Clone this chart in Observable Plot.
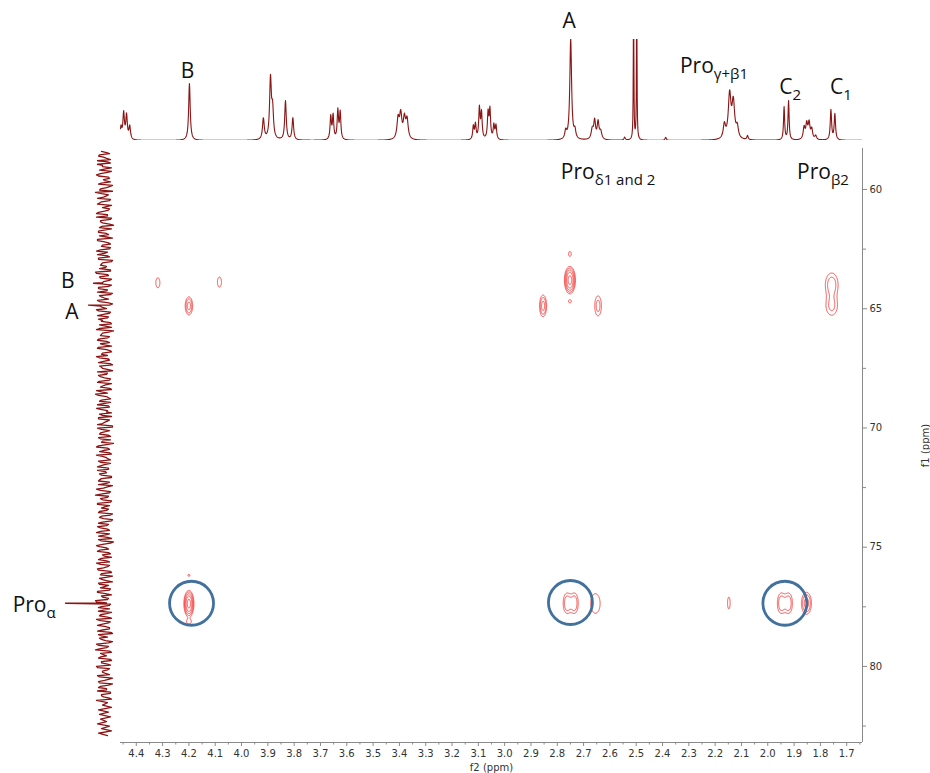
<!DOCTYPE html>
<html><head><meta charset="utf-8">
<script src="https://cdn.jsdelivr.net/npm/d3@7"></script>
<script src="https://cdn.jsdelivr.net/npm/@observablehq/plot@0.6"></script>
<style>
body{margin:0;background:#fff}
#wrap{position:relative;width:930px;height:773px;overflow:hidden;background:#fff}
#wrap svg{position:absolute;left:0;top:0}
</style></head><body><div id="wrap"></div>
<script>
(function () {
// ---------- axes ----------
const f2Domain = [4.46, 1.64];
const f1Domain = [58.28, 83.19];
const xTicks = [4.4,4.3,4.2,4.1,4.0,3.9,3.8,3.7,3.6,3.5,3.4,3.3,3.2,3.1,3.0,2.9,2.8,2.7,2.6,2.5,2.4,2.3,2.2,2.1,2.0,1.9,1.8,1.7];
const xMinor = [4.45,4.35,4.25,4.15,4.05,3.95,3.85,3.75,3.65,3.55,3.45,3.35,3.25,3.15,3.05,2.95,2.85,2.75,2.65,2.55,2.45,2.35,2.25,2.15,2.05,1.95,1.85,1.75,1.65];
const yTicks = [60,65,70,75,80];
const yMinor = [62.5,67.5,72.5,77.5,82.5];

// ---------- 1H projection (top): peak shift, height, half-width ----------
const hShift  = [4.458,4.448,4.437,4.425, 4.198, 3.917,3.890,3.882,3.833,3.805, 3.661,3.652,3.634,3.625, 3.405,3.395,3.381,3.371, 3.119,3.111,3.096,3.088,3.063,3.056,3.041,3.033, 2.768,2.749,2.733, 2.667,2.658,2.645,2.635, 2.544,2.510,2.498, 2.388, 2.165,2.145,2.131,2.116, 2.077, 1.938,1.921, 1.862,1.852,1.843,1.833,1.818, 1.760,1.745];
const hHeight = [12,26,24,13, 57, 21,60,28,39,22, 23,24,29,27, 20,24,20,19, 13,15,31,26,26,29,14,14, 8,101,8, 10,18,17,8, 3,150,150, 3, 14,44,36,11, 4, 33,39, 12,15,16,10,4, 30,26];
const hWidth  = [.0035,.0035,.0035,.0035, .0035, .004,.004,.004,.0035,.0035, .003,.003,.003,.003, .005,.005,.005,.005, .003,.003,.003,.003,.003,.003,.003,.003, .004,.004,.004, .005,.004,.004,.005, .003,.0012,.0012, .003, .005,.006,.006,.005, .003, .0025,.0025, .004,.004,.004,.004,.004, .003,.003];

// ---------- 13C projection (left) ----------
const cShift = [63.93, 64.85, 77.35];
const cHeight = [11, 16, 39];
const cNoiseA = [3,-5,6,-2,7,-6,2,-7,5,-3,8,-4,1,-6,6,-5,4,-8,3,-2,7,-5,5,-7,2,-4,6,-3,8,-6,4,-5,3,-7,6,-2,5,-8,7,-4,2,-6,4,-3,7,-5,6,-7,3,-2,5,-6,8,-4,4,-5,2,-7,6,-3,7,-6,3,-4,5,-8,4,-2,6,-5,7,-3,2,-6,5,-7,8,-4,3,-5,6,-2,4,-7,7,-6,2,-3,5,-5,6,-8,3,-4,7,-2,4,-6,5,-7,2,-5,8,-3,6,-4,3,-6,7,-5,4,-2,5,-7,6,-3,2,-8,7,-5,4,-4,6,-6,3,-2,8,-5,5,-7,2,-3,6,-6,4,-4,7,-2,3,-7,5,-5,6,-3,8,-6,2,-4,4,-7,7,-5,3,-2,6,-6,5,-8,2,-4,7,-3,4,-5,6,-7,3,-6,8,-2,5,-4,2,-7,6,-5,4,-3,7,-6,3,-8,5,-2,6,-4,4,-5,7,-7,2,-3,8,-6,3,-5,6,-2,5,-7,4,-4,7,-5,2,-6,6,-3,3,-8,8,-4,5,-5,4,-2,6,-7,3,-6,7,-3,2,-5,5,-4,6,-8,4,-2,7,-6,3,-5,8,-3,2,-7,6,-4,5,-6,4,-2,7,-5,3,-7,6,-3];
const cNoiseB = [-2,5,1,-6,-3,7,2,-1,-7,4,6,-5,0,3,-8,-2,5,9,-4,1,-6,3,7,-2,-5,0,8,-3,-7,4,2,-9,5,-1,6,-4,-2,7,1,-6,3,-5,8,0,-3,6,-8,2,4,-1,-6,9,-3,5,-7,1,3,-4,6,-2,-8,5,0,7,-3,-5,2,8,-6,1,-4,6,3,-7,-1,5,-9,2,4,-3,7,-5,0,6,-2,-7,3,8,-4,1,-6,5,2,-8,-3,6,0,-5,7,-1,4,-7,3,9,-2,-6,5,1,-4,8,-3,-7,2,6,-5,0,7,-8,3,-1,5,-6,4,2,-9,6,-3,1,-5,8,-2,-6,4,0,7,-4,-1,5,-7,3,6,-2,-8,1,4,-5,9,-3,2,-6,7,0,-4,5,-8,3,1,-7,6,-2,4,-5,8,-1,-3,6,-9,2,5,-4,7,-6,0,3,-2,8,-5,1,6,-7,4,-3,2,-8,5,0,-6,7,-1,3,-4,9,-2,-5,6,1,-7,4,-3,8,-6,2,0,-5,7,-8,3,5,-1,-4,6,-2,9,-7,1,4,-6,3,-3,8,-5,2,-1,7,-8,0,5,-4,6,-2,-6,3,1,-7];

// ---------- HSQC cross peaks ----------
const cpF2 = [4.318,4.084,4.200, 2.752,2.752,2.752,2.854,2.645, 1.757,1.757, 4.200,4.200,4.200, 2.763,2.735,2.763,2.735, 2.655, 2.148, 1.949,1.921,1.949,1.921, 1.853];
const cpF1 = [63.91,63.88,64.88, 62.70,63.80,64.69,64.88,64.88, 63.98,64.90, 77.37,76.18,78.13, 77.18,77.18,77.52,77.52, 77.36, 77.34, 77.18,77.18,77.52,77.52, 77.35];
const cpW2 = [.0093,.0093,.0092, .006,.0102,.006,.0087,.0107, .019,.019, .0093,.0046,.0093, .011,.011,.011,.011, .0217, .006, .011,.011,.011,.011, .0124];
const cpW1 = [.256,.256,.246, .127,.28,.077,.295,.356, .38,.34, .272,.05,.10, .25,.25,.25,.25, .50, .30, .25,.25,.25,.25, .30];
const cpHeight = [1.4,1.4,3.25, 1.4,8.25,1.4,3.25,2.0, 2.2,1.8, 8.25,1.4,1.4, 1.5,1.5,1.5,1.5, 1.4, 1.4, 1.5,1.5,1.5,1.5, 3.25];
const contourLevels = [1, 1.6, 2.6, 4.1, 6.6];

// ---------- highlighted Pro-alpha correlations ----------
const circleF2 = [4.19, 2.75, 1.935];
const circleF1 = [77.35, 77.32, 77.35];

// ---------- annotations ----------
const topText = ["B", "A", "Pro", "C", "C"];
const topSub  = ["", "", "γ+β1", "2", "1"];
const topX = [4.179, 2.730, 2.205, 1.906, 1.713];
const topY = [63, 113, 68, 47, 47];
const mainText = ["Pro", "Pro"];
const mainSub = ["δ1 and 2", "β2"];
const mainX = [2.658, 1.760];
const mainY = [59.54, 59.54];
const leftText = ["B", "A", "Pro"];
const leftSub = ["", "", "α"];
const leftX = [30, 26, 58];
const leftY = [64.11, 65.45, 77.73];

// ---------- build tables ----------
const protonPeaks = hShift.map((s, i) => ({s, h: hHeight[i], w: hWidth[i]}));
const protonCurve = [];
for (let i = 0; i <= 2820; i++) {
  const ppm = 4.46 - i * 0.001;
  let v = 0;
  for (const p of protonPeaks) { const d = (ppm - p.s) / p.w; v += p.h / (1 + d * d); }
  protonCurve.push({ppm, v});
}
const cStep = (82.9 - 58.4) / (cNoiseA.length - 1);
const carbonTrace = [];
cNoiseA.forEach((n, i) => carbonTrace.push({f1: 58.4 + i * cStep, v: n}));
cNoiseB.forEach((n, i) => { const f1 = 58.4 + (i + 0.5) * cStep; if (f1 <= 82.9) carbonTrace.push({f1, v: n}); });
cShift.forEach((s, i) => carbonTrace.push({f1: s, v: cHeight[i]}));
carbonTrace.sort((a, b) => a.f1 - b.f1);

const crossPeaks = cpF2.map((f2, i) => ({f2, f1: cpF1[i], w2: cpW2[i], w1: cpW1[i], h: cpHeight[i]}));
function crossValue(x, y) {
  let v = 0;
  for (const p of crossPeaks) {
    const dx = (x - p.f2) / p.w2; if (dx > 5 || dx < -5) continue;
    const dy = (y - p.f1) / p.w1; if (dy > 5 || dy < -5) continue;
    v += p.h * Math.exp(-0.5 * (dx * dx + dy * dy));
  }
  return v;
}
const circles = circleF2.map((f2, i) => ({f2, f1: circleF1[i]}));
const mk = (T, S, X, Y) => T.map((t, i) => ({t, s: S[i], x: X[i], y: Y[i]}));
const topLabels = mk(topText, topSub, topX, topY);
const mainLabels = mk(mainText, mainSub, mainX, mainY);
const leftLabels = mk(leftText, leftSub, leftX, leftY);

const labelFont = "Open Sans";
const labelMarks = (data) => [
  Plot.text(data, {x: "x", y: "y", text: "t", textAnchor: "end", lineAnchor: "bottom", fontSize: 21, fontFamily: labelFont, fill: "#111"}),
  Plot.text(data, {x: "x", y: "y", text: "s", textAnchor: "start", lineAnchor: "bottom", dy: 6, fontSize: 15, fontFamily: labelFont, fill: "#111"})
];
const baseStyle = {background: "transparent", fontFamily: "DejaVu Sans", fontSize: "10px", overflow: "visible"};
const red = "#8b1414";
const wrap = document.getElementById("wrap");
function attempt(name, fn) {
  try { wrap.append(fn()); }
  catch (e) { const d = document.createElement("div"); d.style.cssText = "position:absolute;left:300px;top:" + (300 + wrap.childNodes.length * 20) + "px;font:14px sans-serif;color:#000"; d.textContent = name + ": " + e.message; wrap.append(d); }
}

// ---------- main 2D plot ----------
attempt("main", () => Plot.plot({
  width: 930, height: 773, marginLeft: 120, marginRight: 68, marginTop: 148, marginBottom: 31,
  style: baseStyle,
  x: {domain: f2Domain},
  y: {domain: f1Domain, reverse: true},
  marks: [
    Plot.contour({value: crossValue, x1: f2Domain[0], x2: f2Domain[1], y1: f1Domain[0], y2: f1Domain[1], thresholds: contourLevels, pixelSize: 0.5, stroke: "#f22a2a", strokeWidth: 0.8, fill: "none"}),
    Plot.dot(circles, {x: "f2", y: "f1", r: 22, stroke: "#41719c", strokeWidth: 2.8, fill: "none"}),
    Plot.ruleY([f1Domain[1]], {stroke: "#8a8a8a"}),
    Plot.ruleX([f2Domain[1]], {stroke: "#8a8a8a"}),
    Plot.axisX(xTicks, {tickFormat: d3.format(".1f"), tickSize: 4, tickPadding: 3, stroke: "#8a8a8a", fill: "#333", label: "f2 (ppm)", labelAnchor: "center", labelOffset: 28, labelArrow: "none"}),
    Plot.axisX(xMinor, {tickFormat: () => "", tickSize: 2.5, stroke: "#8a8a8a", label: null}),
    Plot.axisY(yTicks, {anchor: "right", tickSize: 4, tickPadding: 3, stroke: "#8a8a8a", fill: "#333", label: "f1 (ppm)", labelAnchor: "center", labelOffset: 66, labelArrow: "none"}),
    Plot.axisY(yMinor, {anchor: "right", tickFormat: () => "", tickSize: 3, stroke: "#8a8a8a", label: null}),
    ...labelMarks(mainLabels)
  ]
}));

// ---------- top 1H projection ----------
attempt("top", () => Plot.plot({
  width: 930, height: 148, marginLeft: 120, marginRight: 68, marginTop: 39, marginBottom: 8,
  style: baseStyle,
  x: {domain: f2Domain, axis: null},
  y: {domain: [0, 101], axis: null},
  marks: [
    Plot.line(protonCurve, {x: "ppm", y: "v", stroke: red, strokeWidth: 1.1, clip: true}),
    ...labelMarks(topLabels)
  ]
}));

// ---------- left 13C projection ----------
attempt("left", () => Plot.plot({
  width: 130, height: 773, marginLeft: 54, marginRight: 16, marginTop: 148, marginBottom: 31,
  style: baseStyle,
  x: {domain: [50, -10], axis: null},
  y: {domain: f1Domain, reverse: true, axis: null},
  marks: [
    Plot.line(carbonTrace, {x: "v", y: "f1", stroke: red, strokeWidth: 1.3}),
    ...labelMarks(leftLabels)
  ]
}));
})();
</script></body></html>
